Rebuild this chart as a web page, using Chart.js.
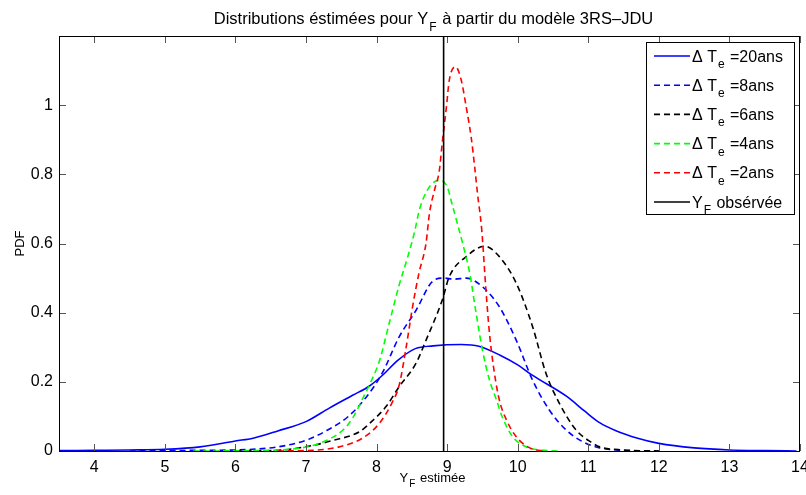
<!DOCTYPE html>
<html>
<head>
<meta charset="utf-8">
<script src="https://cdn.jsdelivr.net/npm/chart.js@4.4.0/dist/chart.umd.min.js"></script>
<style>
  body { margin: 0; background: #fff; }
  #wrap { width: 806px; height: 495px; }
</style>
</head>
<body>
<div id="wrap"><canvas id="graficoPdf" width="806" height="495"></canvas></div>
<script>
// Données (PDF estimées de Y_F)
const x20 = [3.5, 4, 4.5, 5, 5.5, 6, 6.25, 6.6, 7.0, 7.33, 7.66, 7.9, 8.1, 8.3, 8.55, 8.8, 9.2, 9.45, 9.75, 10, 10.2, 10.7, 10.95, 11.16, 11.4, 11.7, 12, 12.5, 13, 13.5, 13.95];
const pdf20 = [0.001, 0.002, 0.003, 0.005, 0.012, 0.029, 0.037, 0.058, 0.085, 0.124, 0.161, 0.188, 0.222, 0.262, 0.296, 0.304, 0.308, 0.303, 0.277, 0.249, 0.22, 0.157, 0.115, 0.082, 0.058, 0.037, 0.022, 0.009, 0.003, 0.001, 0];

const x8 = [4.5, 5, 5.5, 6, 6.6, 7.0, 7.3, 7.6, 7.85, 8.08, 8.32, 8.56, 8.79, 8.95, 9.1, 9.27, 9.5, 9.74, 9.98, 10.21, 10.45, 10.69, 10.92, 11.16, 11.5, 12];
const pdf8 = [0, 0.001, 0.002, 0.003, 0.012, 0.031, 0.06, 0.1, 0.155, 0.225, 0.33, 0.407, 0.49, 0.5, 0.497, 0.5, 0.475, 0.417, 0.32, 0.205, 0.118, 0.06, 0.027, 0.009, 0.002, 0];

const x6 = [6, 6.6, 7.09, 7.37, 7.76, 7.94, 8.14, 8.32, 8.56, 8.7, 8.93, 9.03, 9.27, 9.53, 9.74, 9.98, 10.21, 10.4, 10.59, 10.83, 11.06, 11.16, 11.5, 12];
const pdf6 = [0, 0.002, 0.016, 0.03, 0.056, 0.087, 0.13, 0.186, 0.254, 0.32, 0.436, 0.504, 0.562, 0.592, 0.562, 0.485, 0.36, 0.225, 0.138, 0.06, 0.023, 0.012, 0.003, 0];

const x4 = [5.4, 6.2, 6.86, 7.19, 7.52, 7.66, 7.8, 7.93, 8.04, 8.18, 8.32, 8.44, 8.54, 8.61, 8.75, 8.89, 9.0, 9.08, 9.22, 9.32, 9.41, 9.5, 9.6, 9.7, 9.78, 9.93, 10.12, 10.45, 10.6];
const pdf4 = [0, 0.001, 0.007, 0.022, 0.06, 0.095, 0.15, 0.205, 0.26, 0.37, 0.48, 0.56, 0.635, 0.7, 0.764, 0.783, 0.764, 0.706, 0.6, 0.514, 0.399, 0.292, 0.205, 0.147, 0.099, 0.041, 0.012, 0.001, 0];

const x2 = [6.6, 7.09, 7.47, 7.8, 8.04, 8.22, 8.32, 8.42, 8.51, 8.6, 8.7, 8.75, 8.82, 8.89, 8.93, 8.99, 9.03, 9.12, 9.2, 9.27, 9.34, 9.39, 9.43, 9.49, 9.55, 9.6, 9.67, 9.74, 9.84, 9.98, 10.17, 10.35];
const pdf2 = [0, 0.002, 0.012, 0.037, 0.08, 0.14, 0.19, 0.301, 0.417, 0.514, 0.6, 0.688, 0.754, 0.812, 0.89, 0.995, 1.072, 1.111, 1.072, 0.995, 0.908, 0.822, 0.745, 0.64, 0.465, 0.34, 0.225, 0.147, 0.09, 0.041, 0.009, 0];

const xObs = [8.95, 8.95];
const yObs = [0, 1.2];

const xTicks = [4, 5, 6, 7, 8, 9, 10, 11, 12, 13, 14];
const yTicks = [0, 0.2, 0.4, 0.6, 0.8, 1];

const legendLabels = [
    { sym: 'Δ T', sub: 'e', rest: ' =20ans' },
    { sym: 'Δ T', sub: 'e', rest: ' =8ans' },
    { sym: 'Δ T', sub: 'e', rest: ' =6ans' },
    { sym: 'Δ T', sub: 'e', rest: ' =4ans' },
    { sym: 'Δ T', sub: 'e', rest: ' =2ans' },
    { sym: 'Y', sub: 'F', rest: ' obsérvée' }
];

const police = '"Liberation Sans", Arial, Helvetica, sans-serif';

function points(xs, ys) {
    return xs.map((x, i) => ({ x: x, y: ys[i] }));
}

function serie(xs, ys, color, dashed, order) {
    return {
        data: points(xs, ys),
        borderColor: color,
        borderWidth: 1.6,
        borderDash: dashed ? [6, 4] : [],
        pointRadius: 0,
        cubicInterpolationMode: 'monotone',
        fill: false,
        order: order
    };
}

// texte avec indice (Y_F, ΔT_e)
function texteIndice(ctx, x, y, avant, indice, apres, taille, align) {
    const petite = Math.round(taille * 0.75);
    ctx.font = taille + 'px ' + police;
    const w1 = ctx.measureText(avant).width;
    ctx.font = petite + 'px ' + police;
    const w2 = ctx.measureText(indice).width;
    ctx.font = taille + 'px ' + police;
    const w3 = ctx.measureText(apres).width;
    let x0 = x;
    if (align === 'center') x0 = x - (w1 + w2 + w3) / 2;
    ctx.textAlign = 'left';
    ctx.textBaseline = 'alphabetic';
    ctx.fillText(avant, x0, y);
    ctx.font = petite + 'px ' + police;
    ctx.fillText(indice, x0 + w1 + 1, y + taille * 0.4);
    ctx.font = taille + 'px ' + police;
    ctx.fillText(apres, x0 + w1 + w2 + 2, y);
}

const cadrePlugin = {
    id: 'cadre',
    afterDraw(chart) {
        const ctx = chart.ctx;
        const a = chart.chartArea;
        const sx = chart.scales.x;
        const sy = chart.scales.y;
        ctx.save();

        // graduations vers l'intérieur
        ctx.strokeStyle = '#555';
        ctx.lineWidth = 1;
        ctx.beginPath();
        xTicks.forEach(v => {
            const px = Math.round(sx.getPixelForValue(v)) + 0.5;
            ctx.moveTo(px, a.bottom); ctx.lineTo(px, a.bottom - 7);
            ctx.moveTo(px, a.top); ctx.lineTo(px, a.top + 7);
        });
        yTicks.forEach(v => {
            const py = Math.round(sy.getPixelForValue(v)) + 0.5;
            ctx.moveTo(a.left, py); ctx.lineTo(a.left + 7, py);
            ctx.moveTo(a.right, py); ctx.lineTo(a.right - 7, py);
        });
        ctx.stroke();

        // cadre
        ctx.strokeStyle = '#000';
        ctx.strokeRect(a.left + 0.5, a.top + 0.5, a.right - a.left - 1, a.bottom - a.top);

        ctx.fillStyle = '#000';
        // titre
        texteIndice(ctx, (a.left + a.right) / 2 + 3, 24, 'Distributions éstimées pour Y', 'F', ' à partir du modèle 3RS–JDU', 16.5, 'center');
        // axe x
        texteIndice(ctx, (a.left + a.right) / 2 + 2, 482, 'Y', 'F', ' estimée', 13, 'center');
        // axe y
        ctx.save();
        ctx.translate(24, (a.top + a.bottom) / 2);
        ctx.rotate(-Math.PI / 2);
        ctx.font = '13px ' + police;
        ctx.textAlign = 'center';
        ctx.textBaseline = 'alphabetic';
        ctx.fillText('PDF', 0, 0);
        ctx.restore();

        // légende
        const bx = 646, by = 42, bw = 148, bh = 172;
        ctx.fillStyle = '#fff';
        ctx.fillRect(bx, by, bw, bh);
        ctx.strokeStyle = '#000';
        ctx.lineWidth = 1;
        ctx.strokeRect(bx + 0.5, by + 0.5, bw, bh);
        const ds = chart.data.datasets;
        legendLabels.forEach((lab, i) => {
            const yy = 56 + i * 29.2;
            ctx.strokeStyle = ds[i].borderColor;
            ctx.lineWidth = 1.6;
            ctx.setLineDash(ds[i].borderDash);
            ctx.beginPath();
            ctx.moveTo(654, yy); ctx.lineTo(690, yy);
            ctx.stroke();
            ctx.setLineDash([]);
            ctx.fillStyle = '#000';
            texteIndice(ctx, 692, yy + 5.5, lab.sym, lab.sub, lab.rest, 16, 'left');
        });
        ctx.restore();
    }
};

const ctx = document.getElementById('graficoPdf').getContext('2d');
const graficoPdf = new Chart(ctx, {
    type: 'line',
    data: {
        datasets: [
            serie(x20, pdf20, '#0000ff', false, 5),
            serie(x8, pdf8, '#0000ff', true, 4),
            serie(x6, pdf6, '#000000', true, 3),
            serie(x4, pdf4, '#00ff00', true, 2),
            serie(x2, pdf2, '#ff0000', true, 1),
            serie(xObs, yObs, '#000000', false, 0)
        ]
    },
    options: {
        responsive: false,
        animation: false,
        layout: { padding: { top: 36, right: 6, left: 0, bottom: 0 } },
        plugins: {
            legend: { display: false },
            title: { display: false },
            tooltip: { enabled: false }
        },
        scales: {
            x: {
                type: 'linear',
                min: 3.5,
                max: 14,
                grid: { display: false, drawTicks: false },
                border: { display: false },
                afterBuildTicks: s => { s.ticks = xTicks.map(v => ({ value: v })); },
                afterFit: s => { s.height = 44; s.paddingLeft = 0; s.paddingRight = 0; },
                ticks: {
                    padding: 7,
                    maxRotation: 0,
                    autoSkip: false,
                    color: '#000',
                    font: { family: police, size: 16 },
                    callback: v => String(v)
                }
            },
            y: {
                min: 0,
                max: 1.2,
                grid: { display: false, drawTicks: false },
                border: { display: false },
                afterBuildTicks: s => { s.ticks = yTicks.map(v => ({ value: v })); },
                afterFit: s => { s.width = 59; s.paddingTop = 0; s.paddingBottom = 0; },
                ticks: {
                    padding: 6,
                    autoSkip: false,
                    color: '#000',
                    font: { family: police, size: 16 },
                    callback: v => String(v)
                }
            }
        }
    },
    plugins: [cadrePlugin]
});
</script>
</body>
</html>
